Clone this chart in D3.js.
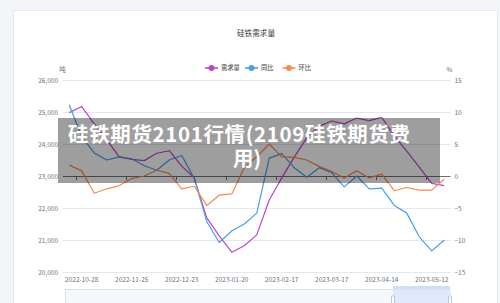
<!DOCTYPE html>
<html>
<head>
<meta charset="utf-8">
<script src="https://cdn.jsdelivr.net/npm/d3@7/dist/d3.min.js"></script>
<style>
  html, body { margin: 0; padding: 0; background: #f4f5f9; }
  svg { display: block; font-family: "Noto Sans CJK SC", "Noto Sans", sans-serif; }
</style>
</head>
<body>
<div id="chart"></div>
<script>
// weekly categories
const dates = [
  "2022-10-21", "2022-10-28", "2022-11-04", "2022-11-11", "2022-11-18", "2022-11-25",
  "2022-12-02", "2022-12-09", "2022-12-16", "2022-12-23", "2022-12-30", "2023-01-06",
  "2023-01-13", "2023-01-20", "2023-01-27", "2023-02-03", "2023-02-10", "2023-02-17",
  "2023-02-24", "2023-03-03", "2023-03-10", "2023-03-17", "2023-03-24", "2023-03-31",
  "2023-04-07", "2023-04-14", "2023-04-21", "2023-04-28", "2023-05-05", "2023-05-12",
  "2023-05-19"
];
// 需求量 (吨)
const demand = [24980, 25170, 24630, 24130, 23600, 23520, 23480, 23710, 23790, 23310, 22940,
  21690, 21130, 20620, 20820, 21160, 22250, 22940, 23590, 24190, 24560, 24720, 24630, 24810,
  24730, 24830, 24250, 23780, 23280, 22770, 22700];
// 同比 (%)
const yoy = [11.1, 6.1, 3.6, 2.5, 3.0, 2.7, 1.6, 0.9, 2.5, 3.2, -0.4, -7.1, -10.4, -8.6, -7.5,
  -5.8, 2.8, 3.5, 1.3, -0.2, 1.3, 0.5, -1.7, 0.0, -2.0, -1.9, -4.6, -5.8, -9.5, -11.7, -10.0];
// 环比 (%)
const mom = [1.7, 0.8, -2.7, -2.0, -1.5, -0.4, 0.0, 0.9, 0.4, -2.0, -1.6, -4.6, -3.0, -2.8, 1.3,
  3.0, 5.0, 3.0, 2.9, 2.5, 1.5, 0.7, -0.3, 0.8, -0.3, 0.3, -2.3, -1.8, -2.2, -2.2, -0.5];

const leftTicks = [20000, 21000, 22000, 23000, 24000, 25000, 26000];
const rightTicks = [-15, -10, -5, 0, 5, 10, 15];
const labelDates = ["2022-10-28", "2022-11-25", "2022-12-23", "2023-01-20",
  "2023-02-17", "2023-03-17", "2023-04-14", "2023-05-12"];

const seriesNames = ["需求量", "同比", "环比"];
const colors = ["#bb47cc", "#4b9fe1", "#f78b4f"];

const W = 500, H = 303;
const grid = { left: 63, right: 450.5, top: 80, bottom: 272 };

const svg = d3.select("#chart").append("svg")
  .attr("width", W).attr("height", H);

// card
svg.append("rect")
  .attr("x", 13.5).attr("y", 10.5)
  .attr("width", 484).attr("height", 300)
  .attr("fill", "#fff").attr("stroke", "#e6e8ef");

// scales
const x = d3.scaleBand().domain(dates).range([grid.left, grid.right]).padding(0);
const yL = d3.scaleLinear().domain([20000, 26000]).range([grid.bottom, grid.top]);
const yR = d3.scaleLinear().domain([-15, 15]).range([grid.bottom, grid.top]);
const cx = d => x(d) + x.bandwidth() / 2;

// title
svg.append("text")
  .attr("x", 256).attr("y", 36)
  .attr("text-anchor", "middle")
  .attr("font-size", 7.6).attr("fill", "#3a3a3a")
  .text("硅铁需求量");

// legend
const legendX = [205, 245, 282.5];
const legend = svg.append("g").selectAll("g")
  .data(seriesNames).enter().append("g")
  .attr("transform", (d, i) => `translate(${legendX[i]},68)`);
legend.append("line")
  .attr("x1", 0).attr("x2", 13)
  .attr("stroke", (d, i) => colors[i]).attr("stroke-width", 1.6);
legend.append("circle")
  .attr("cx", 6.5).attr("r", 3)
  .attr("fill", (d, i) => colors[i]);
legend.append("text")
  .attr("x", 16).attr("y", 2.3)
  .attr("font-size", 6.3).attr("fill", "#333")
  .text(d => d);

// gridlines
svg.append("g").selectAll("line")
  .data(leftTicks).enter().append("line")
  .attr("x1", grid.left).attr("x2", grid.right)
  .attr("y1", d => Math.round(yL(d)) + 0.5).attr("y2", d => Math.round(yL(d)) + 0.5)
  .attr("stroke", "#e3e7f1").attr("stroke-width", 1);

// left axis
const axisL = svg.append("g")
  .attr("transform", `translate(${grid.left - 5},0)`)
  .call(d3.axisLeft(yL).tickValues(leftTicks).tickFormat(d3.format(",")).tickSize(0).tickPadding(0));
axisL.select(".domain").remove();
axisL.selectAll("text").attr("font-size", 6.5).attr("fill", "#6e7079")
  .attr("font-family", "'Noto Sans CJK SC', sans-serif");

// right axis
const axisR = svg.append("g")
  .attr("transform", `translate(${grid.right + 4},0)`)
  .call(d3.axisRight(yR).tickValues(rightTicks).tickSize(0).tickPadding(0));
axisR.select(".domain").remove();
axisR.selectAll("text").attr("font-size", 6.5).attr("fill", "#6e7079")
  .attr("font-family", "'Noto Sans CJK SC', sans-serif");

// axis names
svg.append("text").attr("x", 62.5).attr("y", 71.5).attr("text-anchor", "middle")
  .attr("font-size", 6.5).attr("fill", "#6e7079").text("吨");
svg.append("text").attr("x", 449.5).attr("y", 71.5).attr("text-anchor", "middle")
  .attr("font-size", 6.5).attr("fill", "#6e7079").text("%");

// x axis line on zero of right axis
const zeroY = Math.round(yR(0)) + 0.5;
svg.append("line")
  .attr("x1", grid.left).attr("x2", grid.right)
  .attr("y1", zeroY).attr("y2", zeroY)
  .attr("stroke", "#6e7079").attr("stroke-width", 1);
svg.append("g").selectAll("line")
  .data(labelDates).enter().append("line")
  .attr("x1", d => Math.round(x(d)) + 0.5).attr("x2", d => Math.round(x(d)) + 0.5)
  .attr("y1", zeroY).attr("y2", zeroY + 3.5)
  .attr("stroke", "#6e7079").attr("stroke-width", 1);

// x labels
svg.append("g").selectAll("text")
  .data(labelDates).enter().append("text")
  .attr("x", d => cx(d)).attr("y", 281.5)
  .attr("text-anchor", "middle")
  .attr("font-size", 6.5).attr("fill", "#6e7079")
  .text(d => d);

// lines
const lineL = d3.line().x((d, i) => cx(dates[i])).y(d => yL(d));
const lineR = d3.line().x((d, i) => cx(dates[i])).y(d => yR(d));

svg.append("path").datum(demand)
  .attr("d", lineL).attr("fill", "none")
  .attr("stroke", colors[0]).attr("stroke-width", 1.2).attr("stroke-linejoin", "round");
svg.append("path").datum(yoy)
  .attr("d", lineR).attr("fill", "none")
  .attr("stroke", colors[1]).attr("stroke-width", 1.2).attr("stroke-linejoin", "round");
svg.append("path").datum(mom)
  .attr("d", lineR).attr("fill", "none")
  .attr("stroke", colors[2]).attr("stroke-width", 1.2).attr("stroke-linejoin", "round");

// data zoom slider
const slider = svg.append("g");
slider.append("rect")
  .attr("x", 65.5).attr("y", 289.5).attr("width", 384.5).attr("height", 20)
  .attr("fill", "#f6f7fb").attr("stroke", "#d9e0ef");
slider.append("rect")
  .attr("x", 393).attr("y", 289.5).attr("width", 57).attr("height", 20)
  .attr("fill", "#dde7fb").attr("fill-opacity", 0.9);
slider.append("rect")
  .attr("x", 393).attr("y", 286).attr("width", 57).attr("height", 3)
  .attr("fill", "#d2ddf6");
slider.selectAll(".h").data([393, 450]).enter().append("rect")
  .attr("x", d => d - 1.5).attr("y", 296).attr("width", 3).attr("height", 10)
  .attr("rx", 1).attr("fill", "#fff").attr("stroke", "#a8b6d2").attr("stroke-width", 0.8);

// overlay banner (one wrapped text block)
svg.append("rect")
  .attr("x", 58).attr("y", 118).attr("width", 382).attr("height", 65)
  .attr("fill", "#000").attr("fill-opacity", 0.38);
const bannerLines = ["硅铁期货2101行情(2109硅铁期货费", "用)"];
const bannerX = [68, 233];
svg.append("text")
  .attr("font-size", 20.5).attr("font-weight", "bold").attr("fill", "#fff")
  .selectAll("tspan")
  .data(bannerLines).enter().append("tspan")
  .attr("x", (d, i) => bannerX[i]).attr("y", (d, i) => 142 + i * 24)
  .attr("textLength", (d, i) => i === 0 ? 342 : null)
  .attr("lengthAdjust", "spacing")
  .text(d => d);
</script>
</body>
</html>
